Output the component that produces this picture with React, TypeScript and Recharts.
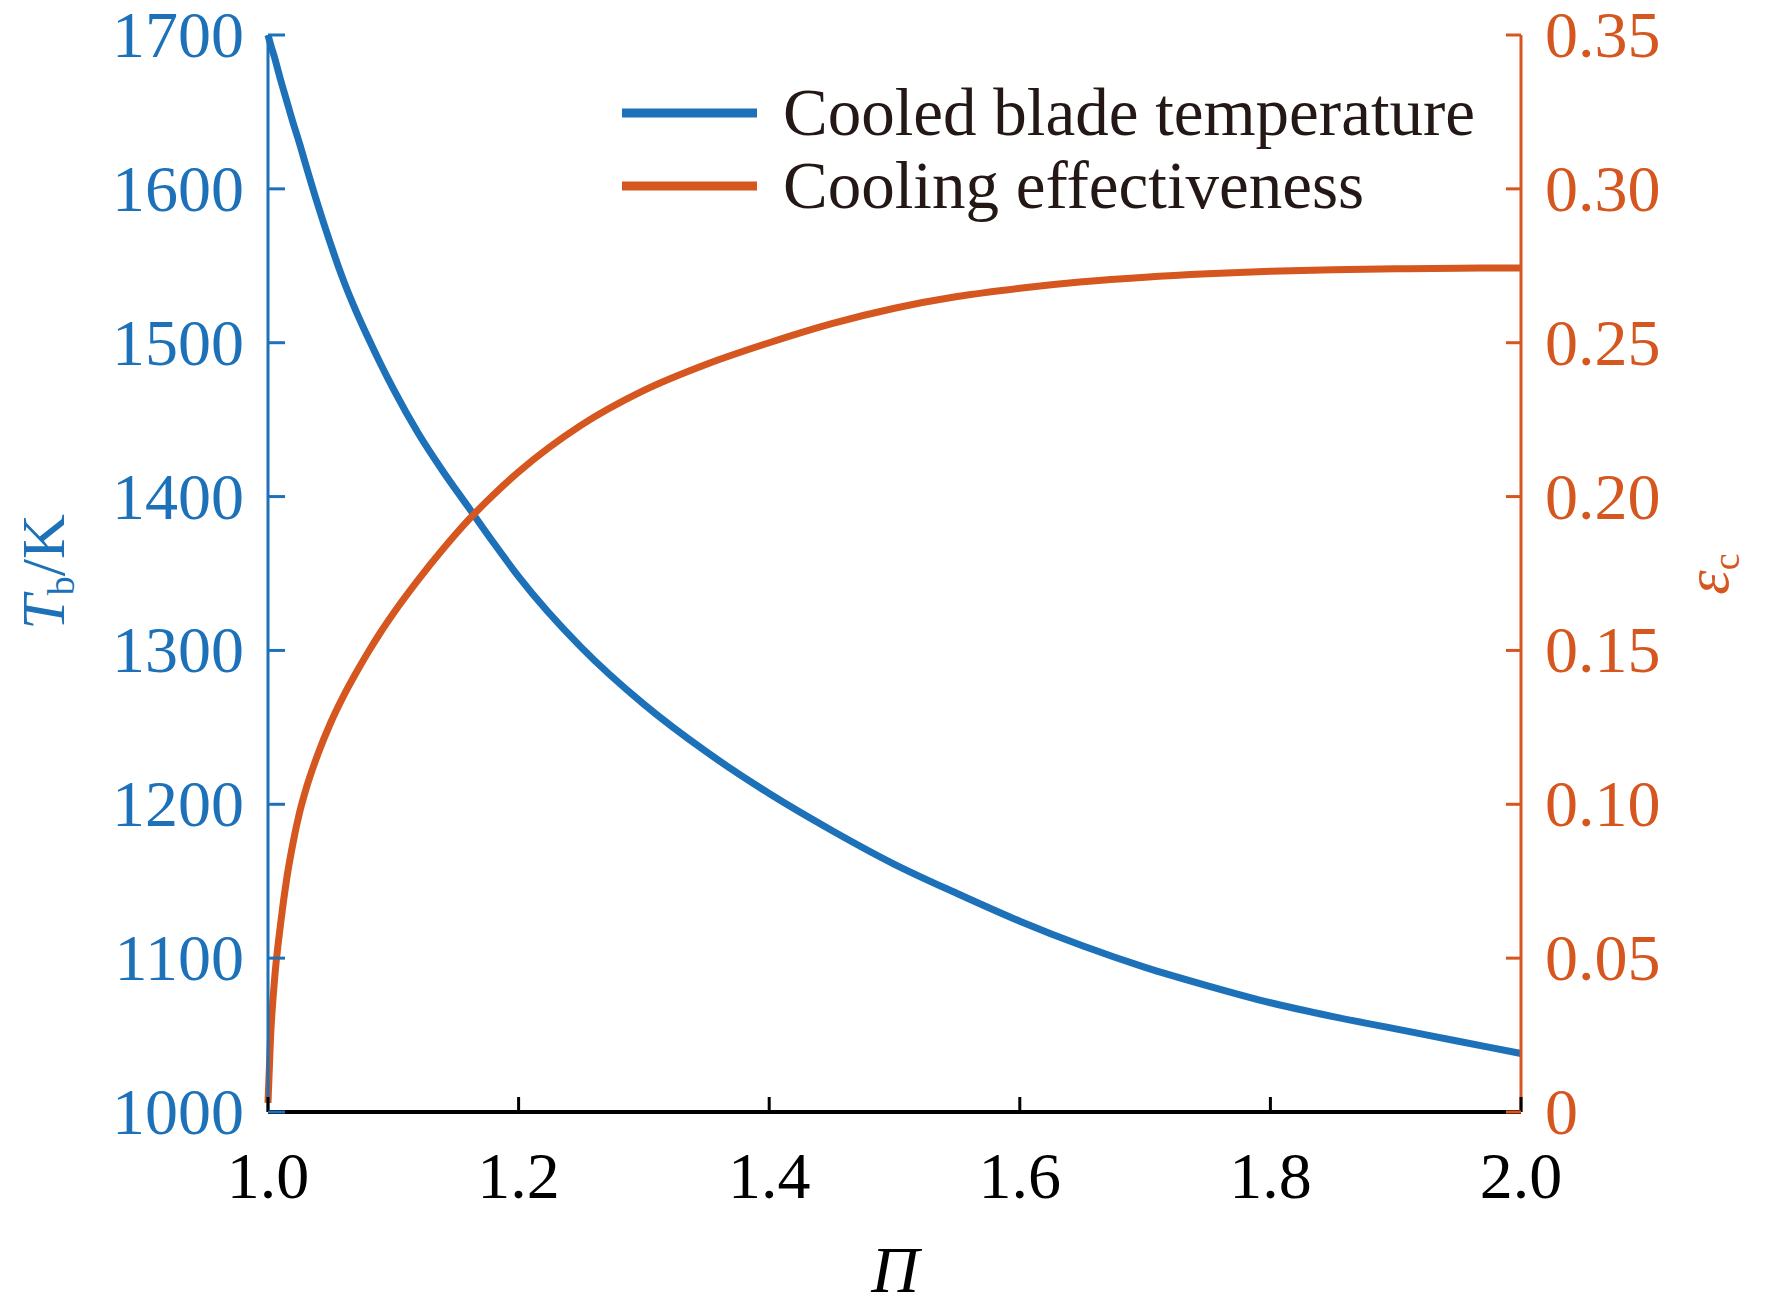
import React from 'react';
import { LineChart, Line, XAxis, YAxis, Legend, Label } from 'recharts';

const piValues = [1.0, 1.002, 1.005, 1.01, 1.015, 1.02, 1.025, 1.03, 1.04, 1.05, 1.06, 1.07, 1.08, 1.09, 1.1, 1.12, 1.14, 1.16, 1.18, 1.2, 1.25, 1.3, 1.35, 1.4, 1.45, 1.5, 1.55, 1.6, 1.65, 1.7, 1.75, 1.8, 1.85, 1.9, 1.95, 2.0];
const bladeTemp = [1700, 1694, 1686, 1671, 1657, 1643, 1630, 1616, 1589, 1564, 1541, 1521, 1503, 1486, 1470, 1441, 1416, 1393, 1370, 1348, 1302, 1265, 1234, 1207, 1183, 1161, 1142, 1124, 1108, 1094, 1082, 1071, 1062, 1054, 1046, 1038];
const coolingEff = [0.003, 0.024, 0.042, 0.061, 0.076, 0.0875, 0.097, 0.1045, 0.1165, 0.1265, 0.135, 0.1425, 0.1495, 0.156, 0.162, 0.173, 0.1831, 0.1924, 0.2006, 0.208, 0.2232, 0.2345, 0.243, 0.25, 0.2562, 0.2612, 0.265, 0.2677, 0.2698, 0.2713, 0.2724, 0.2732, 0.2737, 0.274, 0.2742, 0.2743];

const xTicks = [1.0, 1.2, 1.4, 1.6, 1.8, 2.0];
const tempTicks = [1000, 1100, 1200, 1300, 1400, 1500, 1600, 1700];
const effTicks = [0, 0.05, 0.1, 0.15, 0.2, 0.25, 0.3, 0.35];

const seriesNames = ['Cooled blade temperature', 'Cooling effectiveness'];

const data = piValues.map((p, i) => ({ pi: p, T: bladeTemp[i], e: coolingEff[i] }));

const BLUE = '#1D71B8';
const ORANGE = '#D5561E';
const TEXT = '#231815';
const FONT = '"Liberation Serif", "Times New Roman", serif';
const FS = 66;

const W = 1772;
const H = 1307;

const XTick = (props: any) => {
  const { x, y, payload } = props;
  return (
    <g>
      <line x1={x} x2={x} y1={y} y2={y - 15} stroke="#000" strokeWidth={3} />
      <text x={x} y={y + 86} textAnchor="middle" fontSize={FS} fontFamily={FONT} fill="#000">
        {Number(payload.value).toFixed(1)}
      </text>
    </g>
  );
};

const LeftTick = (props: any) => {
  const { x, y, payload } = props;
  return (
    <g>
      <line x1={x} x2={x + 17} y1={y} y2={y} stroke={BLUE} strokeWidth={3} />
      <text x={x - 24} y={y + 22} textAnchor="end" fontSize={FS} fontFamily={FONT} fill={BLUE}>
        {payload.value}
      </text>
    </g>
  );
};

const RightTick = (props: any) => {
  const { x, y, payload } = props;
  const v = Number(payload.value);
  return (
    <g>
      <line x1={x} x2={x - 15} y1={y} y2={y} stroke={ORANGE} strokeWidth={3} />
      <text x={x + 24} y={y + 22} textAnchor="start" fontSize={FS} fontFamily={FONT} fill={ORANGE}>
        {v === 0 ? '0' : v.toFixed(2)}
      </text>
    </g>
  );
};

const LeftLabel = () => (
  <text
    x={64}
    y={572}
    transform="rotate(-90 64 572)"
    textAnchor="middle"
    fontSize={62}
    fontFamily={FONT}
    fill={BLUE}
  >
    <tspan fontStyle="italic">T</tspan>
    <tspan fontSize={38} dy={10}>b</tspan>
    <tspan dy={-10}>/K</tspan>
  </text>
);

const RightLabel = () => (
  <text
    x={1728}
    y={574}
    transform="rotate(-90 1728 574)"
    textAnchor="middle"
    fontSize={62}
    fontFamily={FONT}
    fill={ORANGE}
  >
    <tspan fontStyle="italic">ε</tspan>
    <tspan fontSize={38} dy={11}>c</tspan>
  </text>
);

const BottomLabel = () => (
  <text x={895} y={1292} textAnchor="middle" fontSize={FS} fontStyle="italic" fontFamily={FONT} fill="#000">
    Π
  </text>
);

const LegendContent = (props: any) => {
  const { payload } = props;
  const items = payload || [];
  return (
    <svg width={900} height={180} style={{ overflow: 'visible', display: 'block' }}>
      {items.map((it: any, i: number) => (
        <g key={i}>
          <line x1={22} x2={157} y1={53 + i * 73} y2={53 + i * 73} stroke={it.color} strokeWidth={9} />
          <text x={183} y={75 + i * 73} fontSize={67} fontFamily={FONT} fill={TEXT}>
            {it.value}
          </text>
        </g>
      ))}
    </svg>
  );
};

export default function App() {
  return (
    <div style={{ position: 'absolute', left: 0, top: 0, width: W, height: H, background: '#fff' }}>
      <LineChart width={W} height={H} data={data} margin={{ top: 35, right: 0, bottom: 0, left: 0 }}>
        <XAxis
          dataKey="pi"
          type="number"
          domain={[1, 2]}
          ticks={xTicks}
          height={195}
          tickSize={0}
          tickMargin={0}
          tickLine={false}
          tick={<XTick />}
          axisLine={{ stroke: '#000', strokeWidth: 4 }}
          label={<Label content={<BottomLabel />} />}
        />
        <YAxis
          yAxisId="T"
          orientation="left"
          domain={[1000, 1700]}
          ticks={tempTicks}
          width={268}
          tickSize={0}
          tickMargin={0}
          tickLine={false}
          tick={<LeftTick />}
          axisLine={{ stroke: BLUE, strokeWidth: 3 }}
          label={<Label content={<LeftLabel />} />}
        />
        <YAxis
          yAxisId="E"
          orientation="right"
          domain={[0, 0.35]}
          ticks={effTicks}
          width={251}
          tickSize={0}
          tickMargin={0}
          tickLine={false}
          tick={<RightTick />}
          axisLine={{ stroke: ORANGE, strokeWidth: 3 }}
          label={<Label content={<RightLabel />} />}
        />
        <Legend
          layout="horizontal"
          verticalAlign="middle"
          align="center"
          wrapperStyle={{ position: 'absolute', left: 600, top: 60, width: 900, height: 180 }}
          content={<LegendContent />}
        />
        <Line
          yAxisId="T"
          type="monotone"
          dataKey="T"
          name={seriesNames[0]}
          stroke={BLUE}
          strokeWidth={7}
          dot={false}
          isAnimationActive={false}
        />
        <Line
          yAxisId="E"
          type="monotone"
          dataKey="e"
          name={seriesNames[1]}
          stroke={ORANGE}
          strokeWidth={7}
          dot={false}
          isAnimationActive={false}
        />
      </LineChart>
    </div>
  );
}
